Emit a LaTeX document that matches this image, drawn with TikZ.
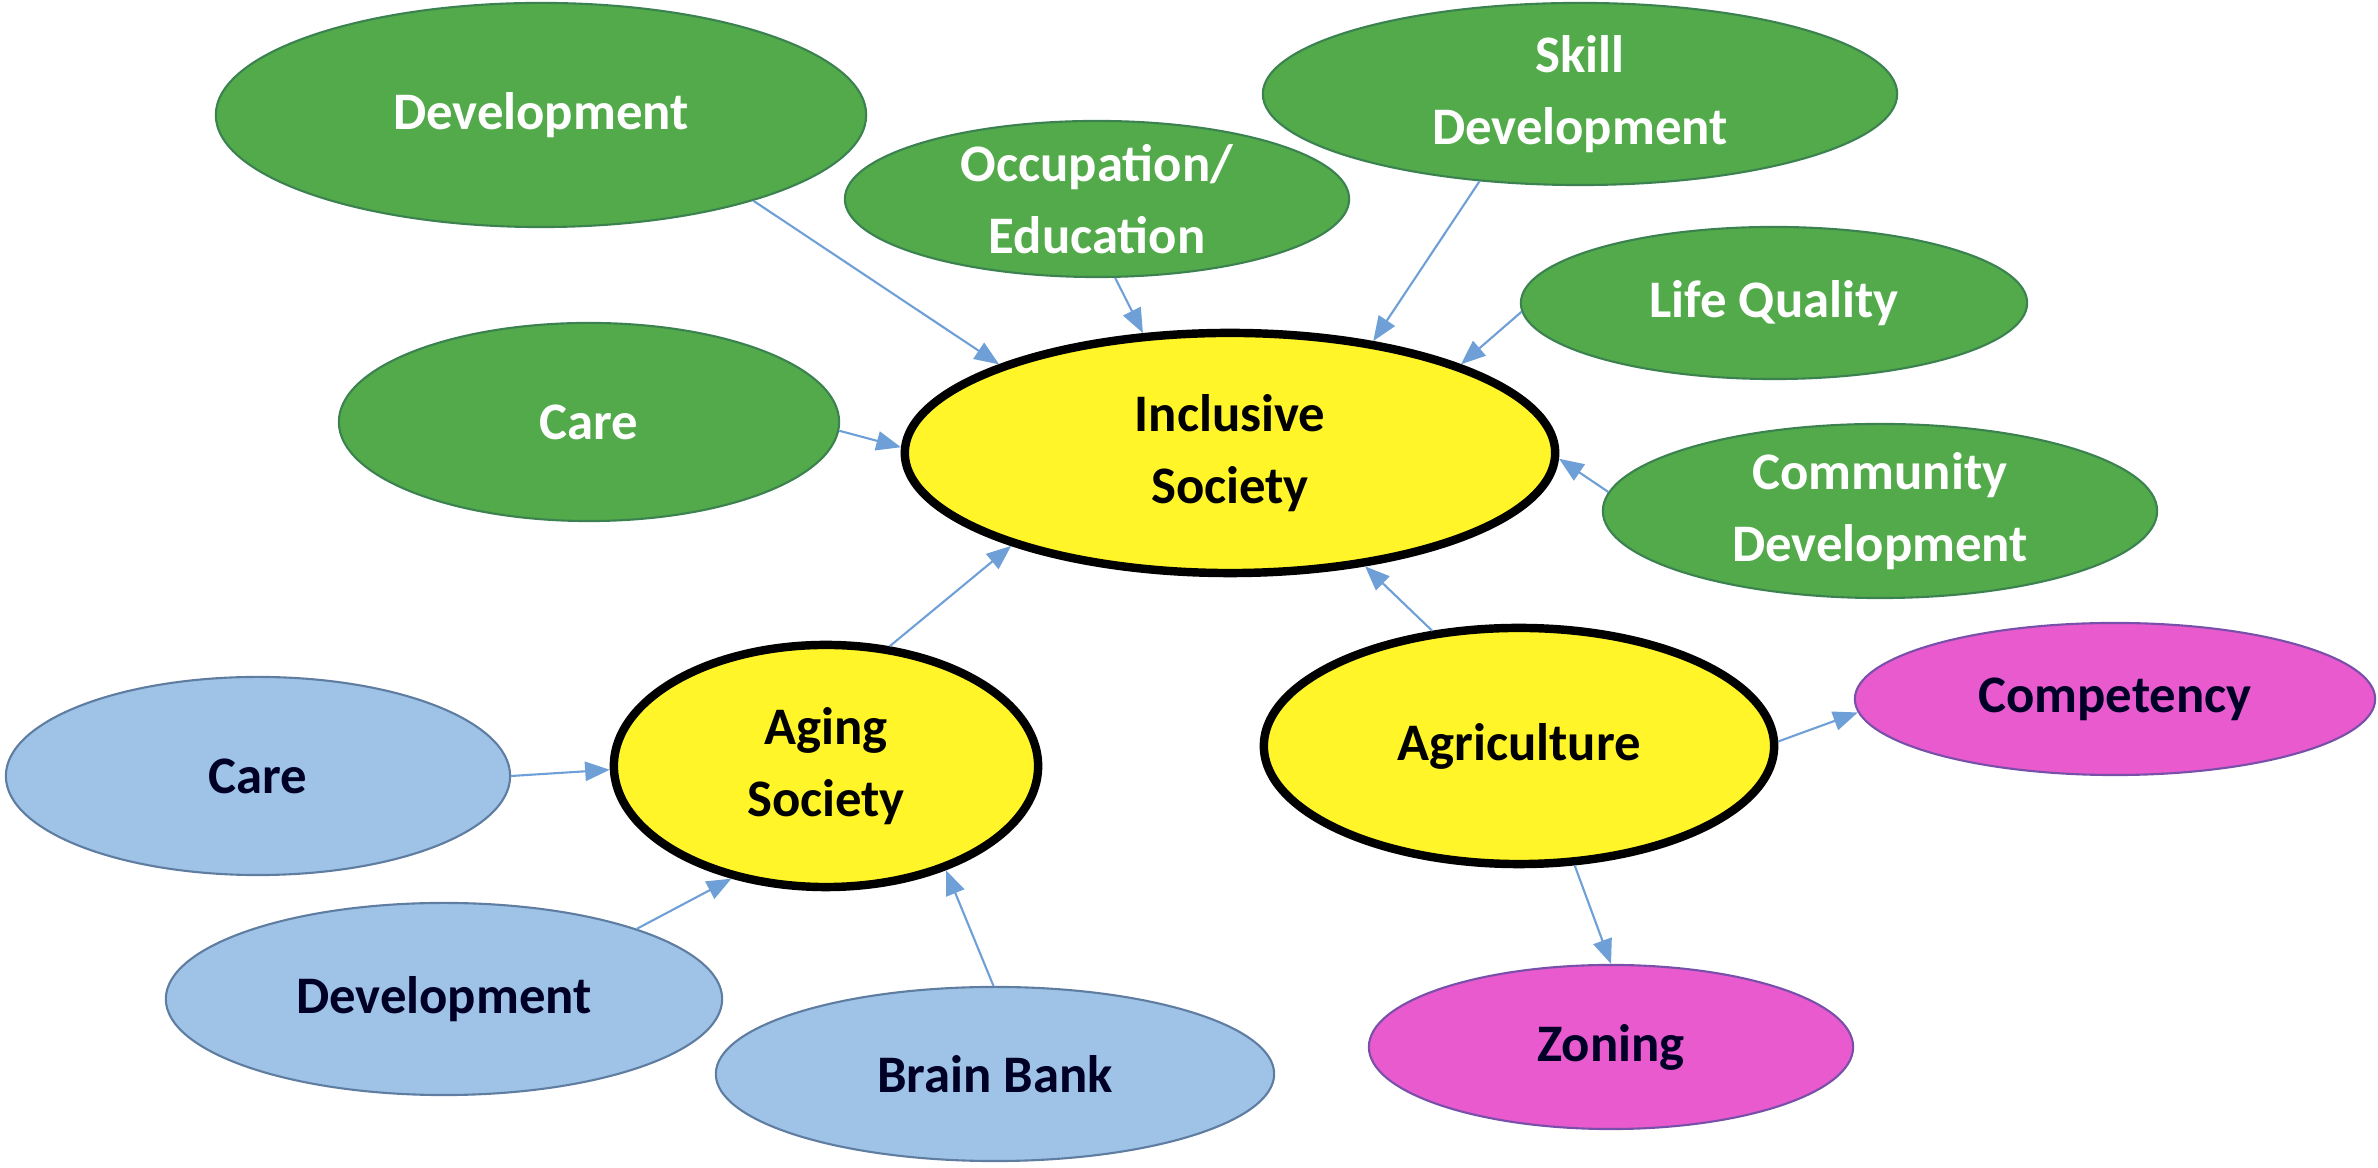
\documentclass[tikz,border=0pt]{standalone}
\usepackage{fontspec}
\setmainfont{Carlito}
\usetikzlibrary{shapes.geometric, arrows.meta}
\definecolor{leaf}{RGB}{82,170,74}
\definecolor{leafline}{RGB}{60,130,80}
\definecolor{sky}{RGB}{158,195,230}
\definecolor{skyline}{RGB}{95,125,160}
\definecolor{rose}{RGB}{232,90,205}
\definecolor{roseline}{RGB}{120,80,170}
\definecolor{sun}{RGB}{255,245,40}
\definecolor{wire}{RGB}{110,160,215}
\begin{document}
\begin{tikzpicture}[x=0.01cm, y=-0.01cm,
  bub/.style={ellipse, inner sep=0pt, align=center, font=\fontsize{15}{20.5}\selectfont\bfseries},
  hub/.style={bub, fill=sun, draw=black, line width=2.4pt},
  grn/.style={bub, fill=leaf, draw=leafline, line width=0.6pt, text=white},
  blu/.style={bub, fill=sky, draw=skyline, line width=0.6pt, text={black!85!blue}},
  pnk/.style={bub, fill=rose, draw=roseline, line width=0.6pt, text={black!85!blue}},
  conn/.style={draw=wire, line width=0.6pt, -{Triangle[length=7pt,width=5.5pt]}}]
\useasboundingbox (0,0) rectangle (2378,1168);
% centre ideas
\node[hub, minimum width=6.5cm, minimum height=2.4cm] (incl) at (1230,453) {Inclusive\\Society};
\node[hub, minimum width=4.24cm, minimum height=2.42cm] (aging) at (826,766) {Aging\\Society};
\node[hub, minimum width=5.1cm, minimum height=2.36cm] (agri) at (1519,746) {Agriculture};
% green ring
\node[grn, minimum width=6.5cm, minimum height=2.24cm] (devG) at (541,115) {Development};
\node[grn, minimum width=5.04cm, minimum height=1.56cm] (occ) at (1097,199) {Occupation/\\Education};
\node[grn, minimum width=6.34cm, minimum height=1.82cm] (skill) at (1580,94) {Skill\\Development};
\node[grn, minimum width=5.06cm, minimum height=1.52cm] (life) at (1774,303) {Life Quality};
\node[grn, minimum width=5cm, minimum height=1.98cm] (careG) at (589,422) {Care};
\node[grn, minimum width=5.54cm, minimum height=1.74cm] (comm) at (1880,511) {Community\\Development};
% blue ring
\node[blu, minimum width=5.04cm, minimum height=1.98cm] (careB) at (258,776) {Care};
\node[blu, minimum width=5.56cm, minimum height=1.92cm] (devB) at (444,999) {Development};
\node[blu, minimum width=5.58cm, minimum height=1.74cm] (brain) at (995,1074) {Brain Bank};
% pink ring
\node[pnk, minimum width=5.2cm, minimum height=1.52cm] (comp) at (2115,699) {Competency};
\node[pnk, minimum width=4.84cm, minimum height=1.64cm] (zone) at (1611,1047) {Zoning};

\draw[conn] (devG.-22) -- (incl.159);
\draw[conn] (occ.-77) -- (incl.126);
\draw[conn] (skill.-139) -- (incl.38);
\draw[conn] (life.182) -- (incl.21);
\draw[conn] (careG.-2) -- (incl.179);
\draw[conn] (comm.176) -- (incl.-1);
\draw[conn] (aging.62) -- (incl.-157);
\draw[conn] (agri.127) -- (incl.-40);
\draw[conn] (careB.0) -- (aging.181);
\draw[conn] (devB.20) -- (aging.-130);
\draw[conn] (brain.91) -- (aging.-41);
\draw[conn] (agri.1) -- (comp.183);
\draw[conn] (agri.-65) -- (zone.90);
\end{tikzpicture}
\end{document}
